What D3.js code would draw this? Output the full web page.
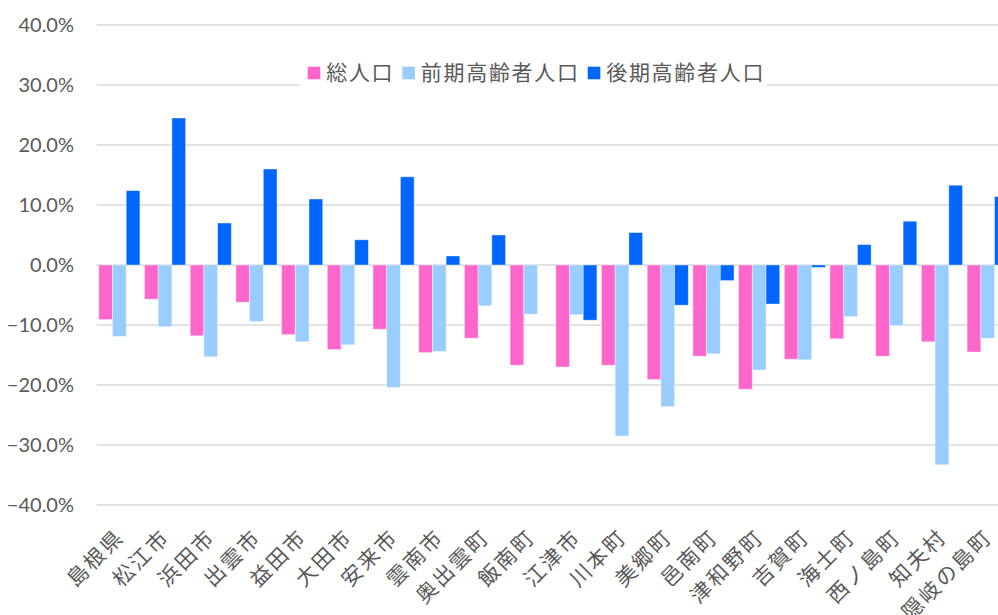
<!DOCTYPE html>
<html>
<head>
<meta charset="utf-8">
<script src="https://cdn.jsdelivr.net/npm/d3@7"></script>
<style>
  body { margin: 0; background: #fff; }
  svg { display: block; }
</style>
</head>
<body>
<div id="chart"></div>
<script>
// 市町村別 人口増減率
var categories = ['島根県', '松江市', '浜田市', '出雲市', '益田市', '大田市', '安来市', '雲南市', '奥出雲町', '飯南町',
  '江津市', '川本町', '美郷町', '邑南町', '津和野町', '吉賀町', '海士町', '西ノ島町', '知夫村', '隠岐の島町'];
var seriesNames = ['総人口', '前期高齢者人口', '後期高齢者人口'];
var totalPop = [-9.1, -5.7, -11.8, -6.2, -11.6, -14.1, -10.7, -14.6, -12.2, -16.7,
  -17.0, -16.7, -19.1, -15.2, -20.7, -15.7, -12.3, -15.2, -12.8, -14.5];
var earlyElderly = [-11.9, -10.3, -15.3, -9.4, -12.8, -13.3, -20.4, -14.4, -6.8, -8.2,
  -8.3, -28.5, -23.6, -14.8, -17.5, -15.8, -8.6, -10.1, -33.3, -12.2];
var lateElderly = [12.4, 24.5, 7.0, 16.0, 11.0, 4.2, 14.7, 1.5, 5.0, 0,
  -9.2, 5.4, -6.7, -2.6, -6.5, -0.4, 3.4, 7.3, 13.3, 11.4];
var yTicks = [-40, -30, -20, -10, 0, 10, 20, 30, 40];
var colors = ['#FF66CC', '#99CCFF', '#0066FF'];

var width = 998, height = 615;
var allSeries = [totalPop, earlyElderly, lateElderly];

var svg = d3.select('#chart').append('svg')
  .attr('width', width).attr('height', height);

var x = d3.scaleBand().domain(categories).range([96.5, 1010.5])
  .paddingInner(0.1).paddingOuter(0.05);
var xs = d3.scaleBand().domain(d3.range(3)).range([0, x.bandwidth()]);
var y = d3.scaleLinear().domain([-40, 40]).range([505, 25]);

// grid
svg.append('g').selectAll('line').data(yTicks).enter().append('line')
  .attr('x1', 96.5).attr('x2', width)
  .attr('y1', function(d) { return y(d); }).attr('y2', function(d) { return y(d); })
  .attr('stroke', '#D9D9D9').attr('stroke-width', 1.3);

// y axis labels
var yAxis = d3.axisLeft(y).tickValues(yTicks).tickSize(0).tickPadding(0)
  .tickFormat(function(d) { return d3.format('.1f')(d) + '%'; });
var yg = svg.append('g').attr('transform', 'translate(74,0)').call(yAxis);
yg.select('.domain').remove();
yg.selectAll('text').attr('fill', '#595959')
  .style('font-family', 'Lato, "DejaVu Sans", sans-serif').style('font-size', '20px');

// bars
var groups = svg.append('g').selectAll('g').data(categories).enter().append('g')
  .attr('transform', function(d) { return 'translate(' + x(d) + ',0)'; });
groups.selectAll('rect').data(function(d, i) {
    return allSeries.map(function(s, k) { return { k: k, v: s[i] }; });
  }).enter().append('rect')
  .filter(function(d) { return d.v !== 0; })
  .attr('x', function(d) { return xs(d.k); })
  .attr('width', xs.bandwidth())
  .attr('y', function(d) { return y(Math.max(0, d.v)); })
  .attr('height', function(d) { return Math.abs(y(d.v) - y(0)); })
  .attr('fill', function(d) { return colors[d.k]; })
  .attr('stroke', '#fff').attr('stroke-opacity', 0.5).attr('stroke-width', 0.8);

// x labels
var xg = svg.append('g');
xg.selectAll('text').data(categories).enter().append('text')
  .attr('transform', function(d) { return 'translate(' + (x(d) + x.bandwidth() / 2 + 1) + ',533) rotate(-45)'; })
  .attr('text-anchor', 'end')
  .attr('dy', '0.35em')
  .attr('fill', '#595959')
  .style('font-family', '"Noto Sans CJK JP", sans-serif').style('font-size', '21px')
  .style('letter-spacing', '2.5px')
  .text(function(d) { return d; });

// legend
var legend = svg.append('g');
legend.append('rect').attr('x', 300).attr('y', 58).attr('width', 467).attr('height', 32).attr('fill', '#fff');
var lx = 307.7;
seriesNames.forEach(function(name, k) {
  legend.append('rect').attr('x', lx).attr('y', 66.7).attr('width', 12.6).attr('height', 12.6).attr('fill', colors[k]);
  var t = legend.append('text').attr('x', lx + 18.5).attr('y', 73).attr('dy', '0.35em')
    .attr('fill', '#595959')
    .style('font-family', '"Noto Sans CJK JP", sans-serif').style('font-size', '21px')
    .style('letter-spacing', '1.7px')
    .text(name);
  lx = lx + 18.5 + t.node().getComputedTextLength() + 8;
});
</script>
</body>
</html>
